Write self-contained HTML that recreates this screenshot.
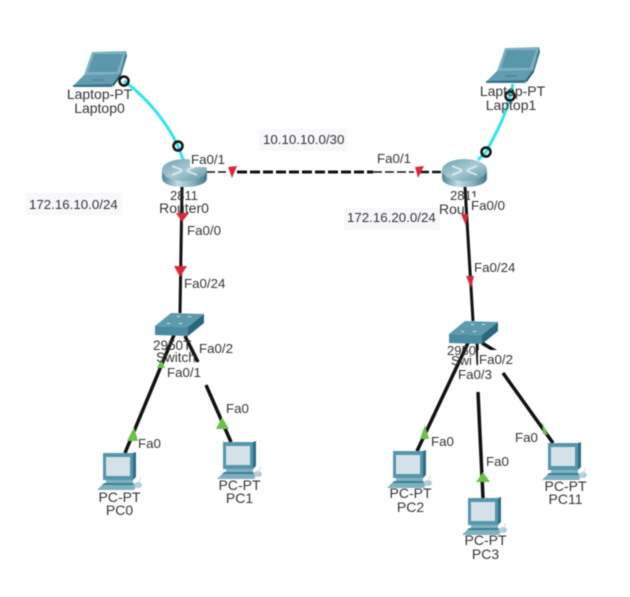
<!DOCTYPE html>
<html><head><meta charset="utf-8"><style>
html,body{margin:0;padding:0;background:#fff;width:630px;height:597px;overflow:hidden}
svg{display:block;filter:blur(.4px)}
text{font-family:"Liberation Sans",sans-serif;fill:#333}
.d{font-size:14px;text-anchor:middle}
.l{font-size:13.3px}
</style></head><body>
<svg width="630" height="597" viewBox="0 0 630 597" xmlns="http://www.w3.org/2000/svg">
<defs>
<linearGradient id="rg" x1="0" x2="1" y1="0" y2="0"><stop offset="0" stop-color="#4f8496"/><stop offset=".35" stop-color="#c2dce3"/><stop offset=".7" stop-color="#86b0bc"/><stop offset="1" stop-color="#3f7587"/></linearGradient>
<linearGradient id="rt" x1="0" x2="1" y1="0" y2="1"><stop offset="0" stop-color="#6f9fb0"/><stop offset=".5" stop-color="#a9cad4"/><stop offset="1" stop-color="#5e93a5"/></linearGradient>
<g id="laptop">
<path d="M92 52L126 51L127 56L120 75L84 75Z" fill="#7fb1c0"/>
<path d="M94 54L123 54L117 72L88 72Z" fill="#5a97ab"/>
<path d="M126 51L127 56L121 76L120 74Z" fill="#3f7d92"/>
<path d="M84 75L120 74L113 85L73 86Z" fill="#629cae"/>
<path d="M73 85L113 84L112 87L73 87Z" fill="#377489"/>
<path d="M120 74L121 76L113 87L113 84Z" fill="#1f5b70"/>
<path d="M92 80H104" stroke="#3f7d92" stroke-width="1"/>
</g>
<g id="pc">
<rect x="103" y="453" width="30" height="27" fill="#5596ab"/>
<path d="M133 453L136 452L136 477L133 480Z" fill="#2d6f86"/>
<rect x="106" y="457" width="24" height="19" fill="#d4e1e8"/>
<rect x="106" y="480" width="27" height="3" fill="#7fb1c0"/>
<path d="M104 483L133 483L135 485L102 485Z" fill="#3d8096"/>
<path d="M102 485L135 485L135 490L97 490Z" fill="#7fb0bf"/>
<ellipse cx="138" cy="485" rx="4" ry="3" fill="#aecbd5"/>
<path d="M134 490L141 478" stroke="#c8d8de" stroke-width="1" fill="none"/>
</g>
<g id="switch">
<path d="M155 326L171 313L204 314L188 327Z" fill="#5d9aae"/>
<path d="M155 326L188 327L188 336L155 335Z" fill="#4a8ba1"/>
<path d="M188 327L204 314L204 323L188 336Z" fill="#2a667c"/>
<g fill="#d8e8ee"><rect x="167" y="323" width="3" height="1"/><rect x="179" y="323" width="3" height="1"/><rect x="177" y="316" width="3" height="1"/><rect x="188" y="316" width="3" height="1"/></g>
</g>
<g id="router">
<path d="M162 171L162 178C162 184 172 187 184 187C197 187 207 184 207 178L207 171Z" fill="url(#rg)"/>
<ellipse cx="184.500" cy="170" rx="22.500" ry="11" fill="url(#rt)"/>
<path d="M172 166L182 170M197 166L187 170M172 175L182 171M197 175L187 171" stroke="#e2eff3" stroke-width="1.500" fill="none"/>
</g>
</defs>

<rect x="259" y="129" width="88" height="22" fill="#f8f8fb"/>
<rect x="26" y="193" width="96" height="22" fill="#f8f8fb"/>
<rect x="344" y="208" width="96" height="22" fill="#f8f8fb"/>

<g fill="none" stroke="#111" stroke-linecap="butt">
<path d="M207 172L227 172" stroke-width="1.500" stroke-dasharray="8 3"/>
<path d="M237 172L373 172" stroke-width="3" stroke-dasharray="10 3"/>
<path d="M373 172L414 172" stroke-width="1.500" stroke-dasharray="9 3"/>
<path d="M420 172L443 172" stroke-width="2.500" stroke-dasharray="9 3"/>
<path d="M182 187L180 313" stroke-width="3"/>
<path d="M465 187L473 321" stroke-width="3"/>
<path d="M174 335L125 453" stroke-width="3.500"/>
<path d="M185 336L198 362M206 385L231 442" stroke-width="3.500"/>
<path d="M468 343L417 451" stroke-width="3.500"/>
<path d="M478 392L483 498" stroke-width="3.500"/>
<path d="M477 343L478 365" stroke-width="3"/>
<path d="M482 343L497 352M503 373L553 443" stroke-width="3.500"/>
</g>
<path d="M124 81C150 100 168 125 178 146L184 162" fill="none" stroke="#2fe4e8" stroke-width="3"/>
<path d="M513 84L510 96C505 118 495 135 486 152L478 160" fill="none" stroke="#2fe4e8" stroke-width="3"/>

<use href="#laptop"/>
<use href="#laptop" x="413" y="-4"/>
<use href="#router"/>
<use href="#router" x="280" y="0"/>
<use href="#switch"/>
<use href="#switch" x="294" y="8"/>
<use href="#pc"/>
<use href="#pc" x="120" y="-11"/>
<use href="#pc" x="290" y="-2"/>
<use href="#pc" x="365" y="45"/>
<use href="#pc" x="445" y="-10"/>

<g fill="#d8283c">
<path d="M228 167L237 166L232 178Z"/>
<path d="M415 167L424 166L418 178Z"/>
<path d="M176 213L189 213L182 222Z"/>
<path d="M174 266L187 266L180 277Z"/>
<path d="M461 214L468 214L466 226Z"/>
<path d="M466 276L474 276L471 288Z"/>
</g>
<g fill="#6cc04c">
<path d="M161 359L165 368L157 368Z"/>
<path d="M134 427L138 441L127 441Z"/>
<path d="M222 417L229 429L216 429Z"/>
<path d="M425 425L429 439L420 439Z"/>
<path d="M483 472L490 482L476 482Z"/>
<path d="M542 422L548 435L543 434Z"/>
</g>
<g fill="none" stroke="#111" stroke-width="2.500">
<circle cx="124" cy="81" r="4.500"/>
<circle cx="178" cy="146" r="4.500"/>
<circle cx="510" cy="96" r="4.500"/>
<circle cx="486" cy="152" r="4.500"/>
</g>

<text class="d" x="99.500" y="99">Laptop-PT</text>
<text class="d" x="99.500" y="113">Laptop0</text>
<text class="d" x="512.500" y="96">Laptop-PT</text>
<text class="d" x="511" y="110">Laptop1</text>
<text class="l" x="263" y="144">10.10.10.0/30</text>
<text class="l" x="29" y="209">172.16.10.0/24</text>
<text class="l" x="347" y="222">172.16.20.0/24</text>
<rect x="190" y="150" width="38" height="17" fill="#fff"/>
<text class="l" x="191" y="164">Fa0/1</text>
<rect x="376" y="150" width="36" height="17" fill="#fff"/>
<text class="l" x="377" y="163">Fa0/1</text>
<text class="d" x="184" y="200" style="font-size:13px">2811</text>
<text class="d" x="184" y="213">Router0</text>
<text class="d" x="464" y="200" style="font-size:13px">2811</text>
<text class="l" x="439" y="214" style="font-size:14px">Rou</text>
<rect x="186" y="221" width="40" height="17" fill="#fff"/>
<text class="l" x="187" y="235">Fa0/0</text>
<rect x="470" y="197" width="38" height="17" fill="#fff"/>
<text class="l" x="471" y="210">Fa0/0</text>
<text class="l" x="184" y="288">Fa0/24</text>
<text class="l" x="474" y="272">Fa0/24</text>
<text class="l" x="153" y="350" style="font-size:13.500px">2950T</text>
<text class="l" x="156" y="362" style="font-size:13.500px">Switch</text>
<text class="l" x="199" y="353">Fa0/2</text>
<text class="l" x="167" y="377">Fa0/1</text>
<text class="l" x="447" y="355" style="font-size:13px">2950</text>
<rect x="478" y="350" width="40" height="17" fill="#fff"/>
<text class="l" x="479" y="364">Fa0/2</text>
<text class="l" x="451" y="365" style="font-size:13px">Swi</text>
<text class="l" x="458" y="379">Fa0/3</text>
<text class="l" x="138" y="448">Fa0</text>
<text class="l" x="226" y="413">Fa0</text>
<text class="l" x="431" y="446">Fa0</text>
<text class="l" x="486" y="466">Fa0</text>
<text class="l" x="515" y="442">Fa0</text>
<text class="d" x="119.500" y="502">PC-PT</text>
<text class="d" x="119.500" y="515">PC0</text>
<text class="d" x="239.500" y="490">PC-PT</text>
<text class="d" x="239.500" y="503">PC1</text>
<text class="d" x="410.500" y="498">PC-PT</text>
<text class="d" x="410.500" y="512">PC2</text>
<text class="d" x="485.500" y="545">PC-PT</text>
<text class="d" x="485.500" y="559">PC3</text>
<text class="d" x="565.500" y="491">PC-PT</text>
<text class="d" x="565.500" y="504">PC11</text>
</svg>
</body></html>
